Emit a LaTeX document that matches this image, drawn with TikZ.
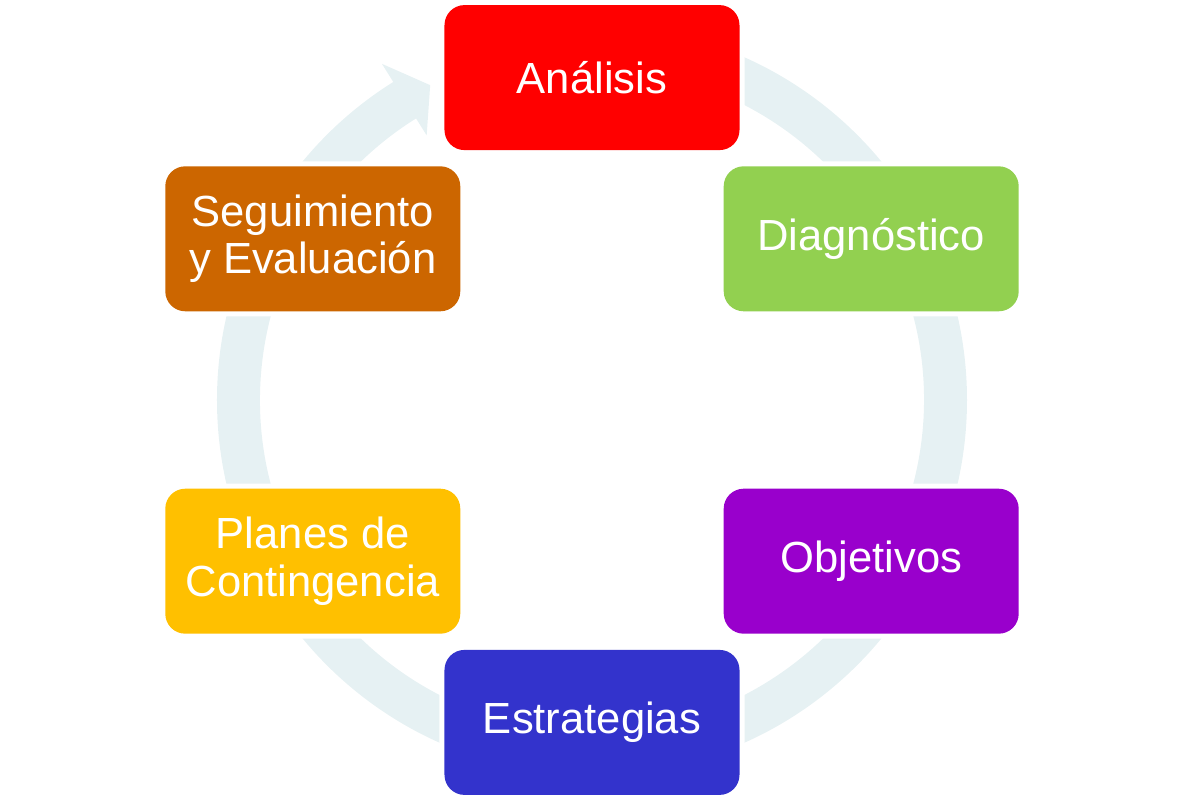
\documentclass[tikz,border=0pt]{standalone}
\usepackage{fontspec}
\setmainfont{Liberation Sans}
\definecolor{ringblue}{RGB}{230,241,243}
\definecolor{diaggreen}{RGB}{146,208,80}
\definecolor{objpurple}{RGB}{153,0,204}
\definecolor{estblue}{RGB}{51,51,204}
\definecolor{planyellow}{RGB}{255,192,0}
\definecolor{segorange}{RGB}{204,102,0}
\tikzset{
  stage/.style={rectangle, rounded corners=0.5cm, minimum width=7.375cm, minimum height=3.625cm,
    inner sep=0pt, align=center, text=white, font=\fontsize{31}{33.5}\selectfont,
    preaction={draw=white, line width=0.25cm}},
  cycle ring/.style={fill=ringblue}
}
\begin{document}
\begin{tikzpicture}
  		\useasboundingbox (-14.8,-10) rectangle (14.875,10);
  		% ring with arrow head
  		\fill[cycle ring] (90:9.375) arc[start angle=90, end angle=-238, radius=9.375]
    			-- (122:9.91) -- (117.2:8.85) -- (122:7.8) -- (122:8.3)
    			arc[start angle=-238, end angle=90, radius=8.3] -- cycle;
  		% stages
  		\node[stage, fill=red] (analisis) at (90:8.06) {Análisis};
  		\node[stage, fill=diaggreen] (diagnostico) at (30:8.06) {Diagnóstico};
  		\node[stage, fill=objpurple] (objetivos) at (-30:8.06) {Objetivos};
  		\node[stage, fill=estblue] (estrategias) at (-90:8.06) {Estrategias};
  		\node[stage, fill=planyellow] (planes) at (210:8.06) {Planes de\\Contingencia};
  		\node[stage, fill=segorange] (seguimiento) at (150:8.06) {Seguimiento\\y Evaluación};
\end{tikzpicture}
\end{document}
